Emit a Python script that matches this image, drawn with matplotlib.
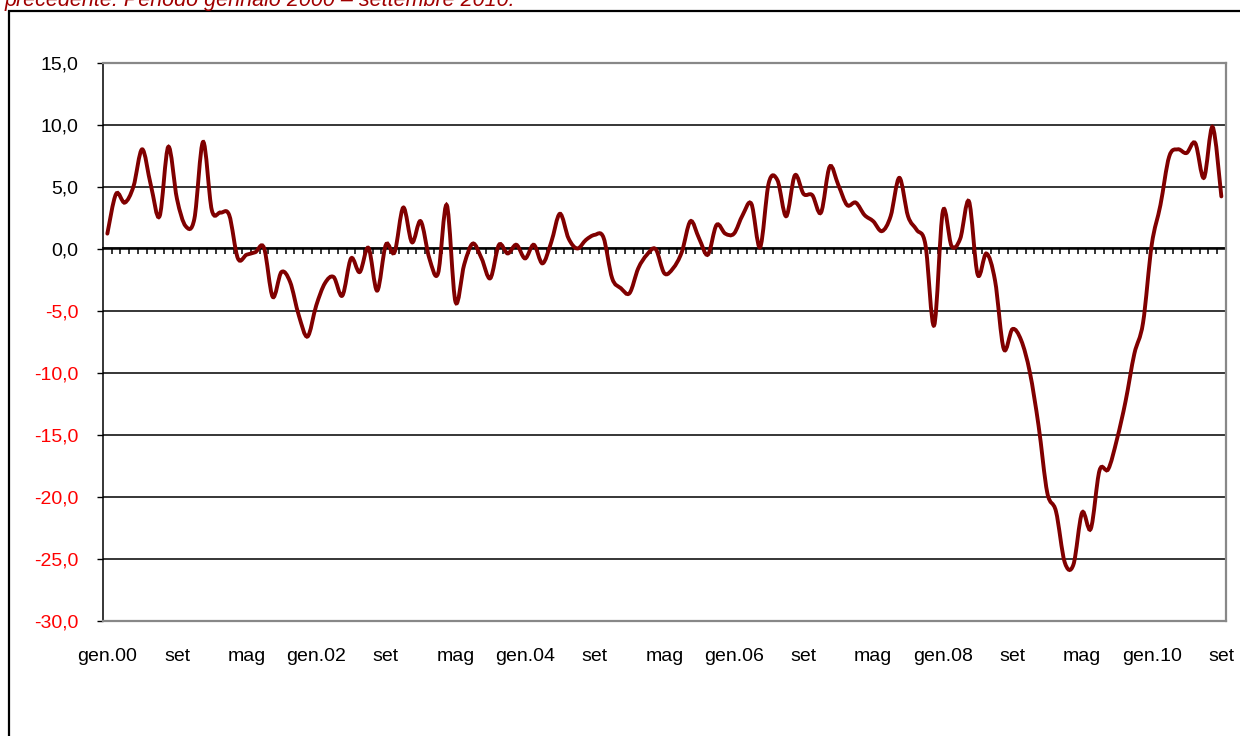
import numpy as np
import matplotlib.pyplot as plt
from matplotlib.path import Path
from matplotlib.patches import PathPatch, Rectangle

plt.rcParams['font.family'] = ['Liberation Sans', 'DejaVu Sans']

# monthly variation, gen.2000 - set.2010
values = [
    1.2, 4.4, 3.7, 5.0, 8.0, 5.1, 2.6, 8.2, 4.0, 1.8, 2.4, 8.6,
    3.1, 2.9, 2.7, -0.8, -0.5, -0.3, 0.05, -3.9, -1.9, -2.7, -5.4, -7.1,
    -4.6, -2.8, -2.3, -3.8, -0.8, -1.9, 0.05, -3.4, 0.3, -0.3, 3.3, 0.5,
    2.2, -0.8, -2.0, 3.5, -4.3, -1.3, 0.4, -0.8, -2.4, 0.3, -0.4, 0.3,
    -0.8, 0.3, -1.2, 0.5, 2.8, 0.8, 0.0, 0.7, 1.1, 0.9, -2.4, -3.2,
    -3.6, -1.6, -0.5, -0.05, -2.0, -1.6, -0.3, 2.2, 0.8, -0.5, 1.9, 1.2,
    1.2, 2.7, 3.6, 0.1, 5.3, 5.5, 2.6, 5.9, 4.4, 4.3, 2.9, 6.6,
    5.1, 3.5, 3.7, 2.7, 2.2, 1.4, 2.6, 5.7, 2.6, 1.5, 0.3, -6.2,
    3.0, 0.2, 0.8, 3.8, -2.1, -0.4, -2.6, -8.1, -6.5, -7.4, -10.0, -14.3,
    -19.7, -21.2, -25.3, -25.5, -21.3, -22.6, -17.9, -17.8, -15.4, -12.3, -8.5, -6.0,
    0.3, 3.5, 7.4, 8.0, 7.7, 8.5, 5.7, 9.8, 4.2,
]
tick_pos = list(range(0, 129, 8))
tick_labels = ['gen.00', 'set', 'mag', 'gen.02', 'set', 'mag', 'gen.04', 'set', 'mag',
               'gen.06', 'set', 'mag', 'gen.08', 'set', 'mag', 'gen.10', 'set']
y_ticks = list(range(-30, 16, 5))
title_text = 'precedente. Periodo gennaio 2000 \u2013 settembre 2010.'


def smooth_path(xs, ys):
    # excel-like smoothed line (catmull-rom as bezier)
    pts = np.column_stack([xs, ys])
    n = len(pts)
    verts = [pts[0]]
    codes = [Path.MOVETO]
    for i in range(n - 1):
        p0 = pts[max(i - 1, 0)]
        p1 = pts[i]
        p2 = pts[i + 1]
        p3 = pts[min(i + 2, n - 1)]
        verts += [p1 + (p2 - p0) / 6, p2 - (p3 - p1) / 6, p2]
        codes += [Path.CURVE4] * 3
    return Path(verts, codes)


fig = plt.figure(figsize=(12.4, 7.36), dpi=100)
ax = fig.add_axes([103 / 1240, 1 - 620.5 / 736, 1122.7 / 1240, 558 / 736])

months = np.arange(len(values))
ax.add_patch(PathPatch(smooth_path(months, np.array(values)), facecolor='none',
                       edgecolor='#800000', lw=2.8, zorder=3, capstyle='round'))

ax.set_xlim(-0.5, len(values) - 0.5)
ax.set_ylim(-30, 15)

ax.set_yticks(y_ticks, labels=[f'{v:.1f}'.replace('.', ',') for v in y_ticks])
for lab, v in zip(ax.get_yticklabels(), y_ticks):
    lab.set_color('black' if v >= 0 else 'red')
ax.tick_params(axis='y', direction='out', length=4.3, width=1, pad=13.5, labelsize=14)
ax.yaxis.grid(True, color='black', lw=1.1)
ax.set_axisbelow(True)

ax.set_xticks(tick_pos, labels=tick_labels)
ax.tick_params(axis='x', length=0, pad=20, labelsize=14)

for s in ['top', 'right', 'bottom']:
    ax.spines[s].set_color('#888888')
    ax.spines[s].set_linewidth(1.6)
ax.spines['left'].set_color('black')
ax.spines['left'].set_linewidth(1.1)

# category axis crossing at zero, ticks pointing down
sec = ax.secondary_xaxis(30 / 45)
sec.set_xticks(np.arange(0.5, len(values) - 1, 1))
sec.tick_params(direction='in', length=4.5, width=1.1, labelbottom=False, labeltop=False)
for s in sec.spines.values():
    s.set_linewidth(1.3)
    s.set_color('black')

# chart border
fig.patches.append(Rectangle((8.5 / 1240, -0.1), 1.2, 1.1 - 10.5 / 736,
                             transform=fig.transFigure, fill=False,
                             edgecolor='black', lw=1.6))

fig.text(5 / 1240, 1 - 6 / 736, title_text, color='#A00000', fontsize=15.5,
         style='italic', ha='left', va='baseline')

fig.savefig('out.png', dpi=100)
